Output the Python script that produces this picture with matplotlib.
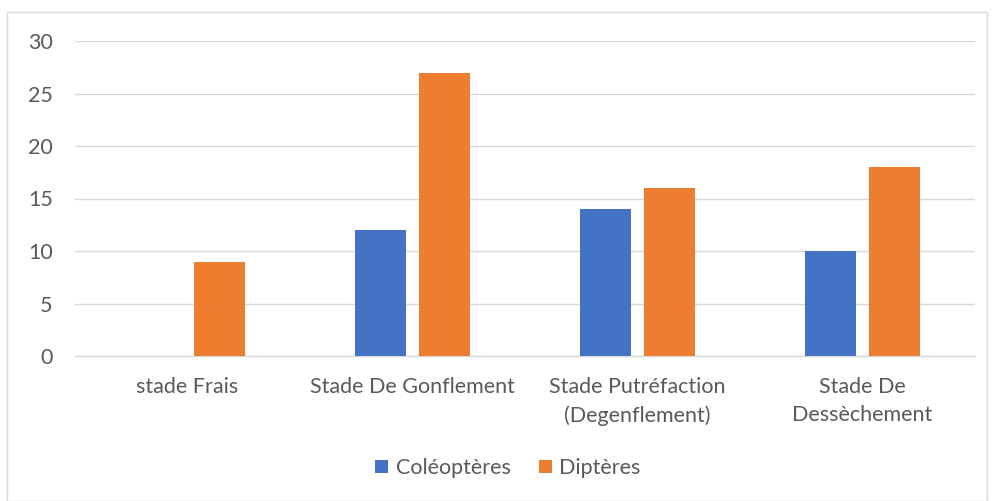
import numpy as np
import matplotlib
matplotlib.use("Agg")
import matplotlib.pyplot as plt
from matplotlib.patches import Rectangle

categories = ["stade Frais", "Stade De Gonflement", "Stade Putréfaction\n(Degenflement)", "Stade De\nDessèchement"]
coleopteres = [0, 12, 14, 10]
dipteres = [9, 27, 16, 18]
series_names = ["Coléoptères", "Diptères"]
yticks = [0, 5, 10, 15, 20, 25, 30]

plt.rcParams['font.family'] = ['Lato', 'DejaVu Sans']
txt = '#595959'
fs = 15.5

fig = plt.figure(figsize=(9.92, 5.01), dpi=100)
ax = fig.add_axes([75/992, 1-356/501, 900/992, 315/501])

# outer chart border like excel
fig.patches.append(Rectangle((7/992, 0), 980/992, 1-12/501, transform=fig.transFigure,
                             fill=False, edgecolor='#d9d9d9', linewidth=1))

x = np.arange(len(categories))
w = 0.227
gap = 0.058
ax.bar(x - (w + gap)/2, coleopteres, w, color='#4472C4', label=series_names[0], zorder=3)
ax.bar(x + (w + gap)/2, dipteres, w, color='#ED7D31', label=series_names[1], zorder=3)

ax.set_xlim(-0.5, 3.5)
ax.set_ylim(0, 30)
ax.set_yticks(yticks)
ax.yaxis.grid(True, color='#d9d9d9', linewidth=1, zorder=0)
for s in ['top', 'right', 'left']:
    ax.spines[s].set_visible(False)
ax.spines['bottom'].set_color('#d9d9d9')
ax.spines['bottom'].set_linewidth(1)
ax.tick_params(axis='both', length=0, colors=txt, labelsize=fs)
ax.tick_params(axis='y', pad=16)
ax.tick_params(axis='x', pad=15)
ax.set_xticks(x)
ax.set_xticklabels(categories, linespacing=1.5)

ax.legend(loc='center', bbox_to_anchor=(508/992, 1-468/501), bbox_transform=fig.transFigure,
          ncol=2, frameon=False, fontsize=fs, labelcolor=txt, handlelength=0.6, handleheight=0.6,
          handletextpad=0.35, columnspacing=1.3)

fig.savefig("out.png", dpi=100)
